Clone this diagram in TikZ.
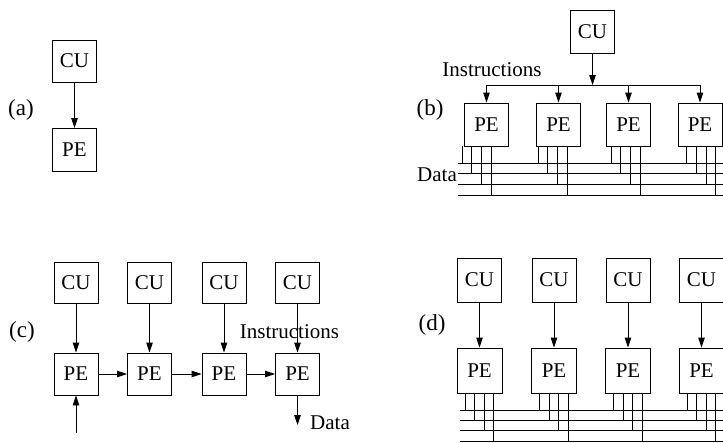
\documentclass[tikz,border=0pt]{standalone}
\usepackage{fontspec}
\setmainfont{Liberation Serif}
\usetikzlibrary{arrows.meta}

\begin{document}
\begin{tikzpicture}[x=1pt,y=-1pt,line width=0.9pt,
	box/.style={draw,minimum width=44pt,minimum height=43pt,inner sep=0pt,font=\fontsize{21}{24}\selectfont},
	lbl/.style={font=\fontsize{21}{24}\selectfont,inner sep=0pt},
	tag/.style={font=\fontsize{23}{26}\selectfont,inner sep=0pt},
	arr/.style={-{Triangle[length=10pt,width=6.5pt]}}]
	\useasboundingbox (0,0) rectangle (723,442);

	% (a) one CU, one PE
	\node[tag] (taga) at (21,110) {(a)};
	\node[box,minimum height=42pt] (cua) at (74.5,61) {CU};
	\node[box] (pea) at (74.5,150) {PE};
	\draw[arr] (cua) -- (pea);

	% (b) one CU driving four PEs
	\node[tag] (tagb) at (430,110) {(b)};
	\node[box] (cub) at (592.5,31.5) {CU};
	\coordinate (split) at (592.5,85);
	\draw[arr] (cub.south) -- (split);
	\node[lbl] (instb) at (492,70) {Instructions};
	\node[lbl] (datab) at (437,175) {Data};
	\foreach \n/\x/\d in {1/486.5/-2,2/558.5/2,3/628.5/5,4/700/9}{
		\node[box] (peb\n) at (\x,124.5) {PE};
		\draw[arr] (split -| peb\n.north) -- (peb\n.north);
		\foreach \k in {0,...,3}
			\draw ([xshift={\d+9.7*\k}]peb\n.south west) -- ++(0,{17+10.7*\k});
	}
	\draw (split -| peb1.north) -- (split -| peb4.north);
	\foreach \k in {0,...,3}
		\draw (458,{163+10.7*\k}) -- (723,{163+10.7*\k});

	% (c) pipeline of CU/PE pairs
	\node[tag] (tagc) at (22,332) {(c)};
	\foreach \n/\x in {1/76,2/149.5,3/224,4/297.5}{
		\node[box,minimum height=41pt] (cuc\n) at (\x,282.5) {CU};
		\node[box,minimum height=42pt] (pec\n) at (\x,374) {PE};
		\draw[arr] (cuc\n) -- (pec\n);
	}
	\foreach \a/\b in {1/2,2/3,3/4}
		\draw[arr] (pec\a) -- (pec\b);
	\node[lbl] (instc) at (289.5,332) {Instructions};
	\coordinate (inc) at (76,433);
	\coordinate (outc) at (297.5,425);
	\draw[arr] (inc) -- (pec1);
	\draw[arr] (pec4) -- (outc);
	\node[lbl] (datac) at (330,423) {Data};

	% (d) CU/PE pairs on a shared bus
	\node[tag] (tagd) at (432,325) {(d)};
	\foreach \n/\x in {1/479.5,2/554,3/628,4/701.5}{
		\node[box,minimum height=44pt] (cud\n) at (\x,280) {CU};
		\node[box,minimum width=45pt,minimum height=45pt] (ped\n) at (\x,370.5) {PE};
		\draw[arr] (cud\n) -- (ped\n);
		\foreach \k in {0,...,3}
			\draw ([xshift={8.5+9.5*\k}]ped\n.south west) -- ++(0,{17+10.4*\k});
	}
	\foreach \k in {0,...,3}
		\draw (460,{410+10.4*\k}) -- (723,{410+10.4*\k});
\end{tikzpicture}
\end{document}
